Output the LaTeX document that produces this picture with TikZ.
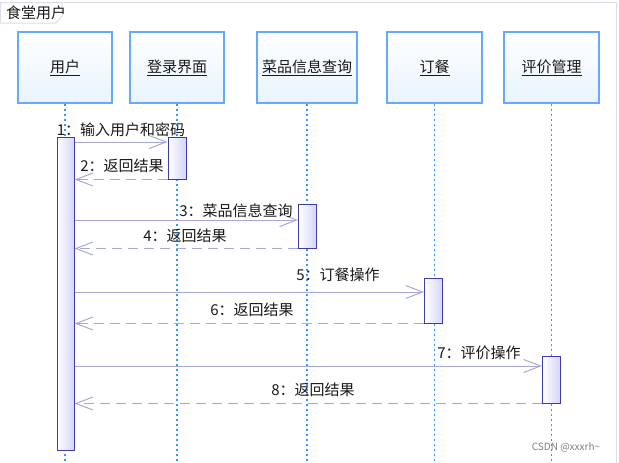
\documentclass[tikz,border=0pt]{standalone}
\usepackage{fontspec}
\setmainfont{Noto Sans CJK SC}
\usetikzlibrary{arrows.meta,calc}
\pgfdeclarelayer{background}
\pgfdeclarelayer{foreground}
\pgfsetlayers{background,main,foreground}

\definecolor{framegray}{RGB}{220,220,236}
\definecolor{boxblue}{RGB}{102,170,255}
\definecolor{boxfill}{RGB}{232,244,253}
\definecolor{lineblue}{RGB}{51,153,255}
\definecolor{actborder}{RGB}{60,60,170}
\definecolor{actfill}{RGB}{212,212,248}
\definecolor{msgline}{RGB}{168,168,216}
\definecolor{labelgray}{RGB}{25,25,25}

\tikzset{
  objbox/.style={draw=boxblue, line width=1.2pt, top color=white, bottom color=boxfill,
    inner sep=0pt, minimum height=71pt, font=\fontsize{15}{16}\selectfont, text=labelgray},
  lifeline/.style={lineblue, line width=1.1pt, dash pattern=on 2.5pt off 2.5pt},
  actbar/.style={draw=actborder, line width=1pt, left color=white, right color=actfill,
    inner sep=0pt, minimum width=18pt},
  call/.style={msgline, line width=1pt, -{Straight Barb[length=17pt,width=13pt,line width=1pt]}},
  reply/.style={call, dash pattern=on 10pt off 6pt},
  msglabel/.style={font=\fontsize{15}{16}\selectfont, text=labelgray, inner sep=0pt}
}

\begin{document}
\begin{tikzpicture}[x=1pt,y=-1pt]
\useasboundingbox (0,0) rectangle (619,463);

\coordinate (BottomEdge) at (0,463);
\coordinate (MsgOne)   at (0,142);
\coordinate (MsgThree) at (0,220);
\coordinate (MsgFive)  at (0,292);
\coordinate (MsgSeven) at (0,366);

% frame with its tab
\draw[framegray, line width=1pt] (0.5,2.5) -- (616.5,2.5) -- (616.5,470);
\draw[framegray, line width=1pt, fill=white] (0.5,2.5) -- (62,2.5) -- (62,16) -- (56,23) -- (0.5,23) -- cycle;
\node[msglabel] (FrameTitle) at (36,13) {食堂用户};

% objects
\node[objbox, minimum width=94pt]  (User)   at (65,67.5)    {\underline{用户}};
\node[objbox, minimum width=94pt]  (Login)  at (177,67.5)   {\underline{登录界面}};
\node[objbox, minimum width=100pt] (Menu)   at (307,67.5)   {\underline{菜品信息查询}};
\node[objbox, minimum width=95pt]  (Order)  at (434.5,67.5) {\underline{订餐}};
\node[objbox, minimum width=95pt]  (Review) at (551.5,67.5) {\underline{评价管理}};

\begin{pgfonlayer}{background}
  \foreach \obj in {User,Login,Menu,Order,Review}
    \draw[lifeline] (\obj.south) -- (\obj.south |- BottomEdge);
\end{pgfonlayer}

% activations
\node[actbar, minimum width=17pt, minimum height=313pt] (UserAct) at (65.5,293.5) {};
\node[actbar, minimum height=42pt] (LoginAct)  at (177,158)   {};
\node[actbar, minimum height=44pt] (MenuAct)   at (307.5,226) {};
\node[actbar, minimum height=45pt] (OrderAct)  at (433.5,300.5) {};
\node[actbar, minimum height=47pt] (ReviewAct) at (551.5,379.5) {};

% messages
\draw[call]  (UserAct.east |- MsgOne) -- (LoginAct.west |- MsgOne);
\draw[reply] (LoginAct.south west) -- (UserAct.east |- LoginAct.south);
\draw[call]  (UserAct.east |- MsgThree) -- (MenuAct.west |- MsgThree);
\draw[reply] (MenuAct.south west) -- (UserAct.east |- MenuAct.south);
\draw[call]  (UserAct.east |- MsgFive) -- (OrderAct.west |- MsgFive);
\draw[reply] (OrderAct.south west) -- (UserAct.east |- OrderAct.south);
\draw[call]  (UserAct.east |- MsgSeven) -- (ReviewAct.west |- MsgSeven);
\draw[reply] (ReviewAct.south west) -- (UserAct.east |- ReviewAct.south);

\node[msglabel] (LabOne)   at (121,130) {1：输入用户和密码};
\node[msglabel] (LabTwo)   at (122,166) {2：返回结果};
\node[msglabel] (LabThree) at (236,211) {3：菜品信息查询};
\node[msglabel] (LabFour)  at (185,236) {4：返回结果};
\node[msglabel] (LabFive)  at (338,275) {5：订餐操作};
\node[msglabel] (LabSix)   at (252,310) {6：返回结果};
\node[msglabel] (LabSeven) at (479,353) {7：评价操作};
\node[msglabel] (LabEight) at (313,390) {8：返回结果};

\node[font=\fontsize{10}{12}\selectfont, text=gray, inner sep=0pt] (Mark) at (566,447) {CSDN @xxxrh\textasciitilde};
\end{tikzpicture}
\end{document}
